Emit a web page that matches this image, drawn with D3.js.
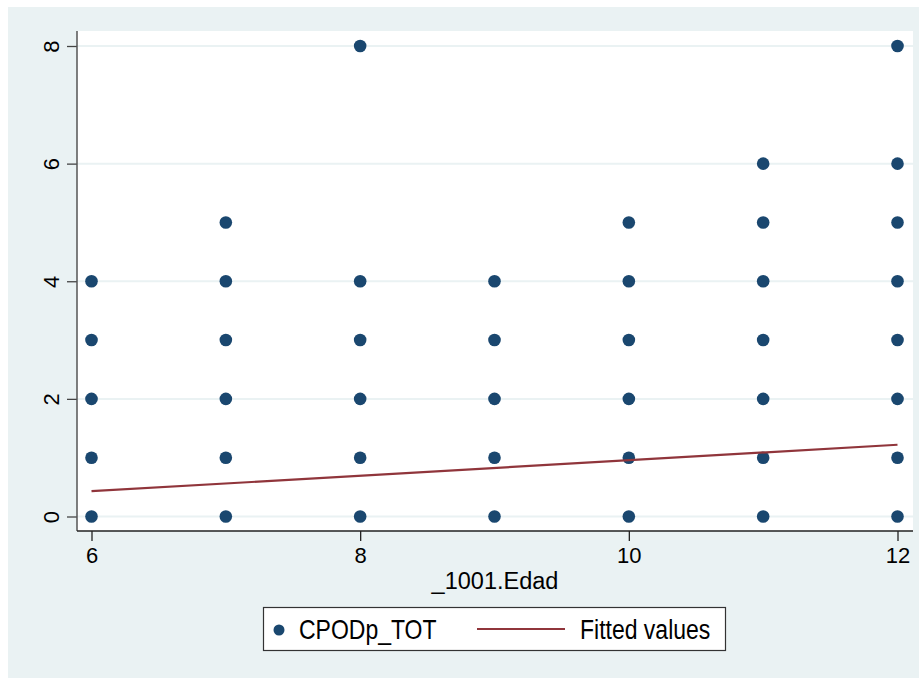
<!DOCTYPE html>
<html>
<head>
<meta charset="utf-8">
<script src="https://cdn.jsdelivr.net/npm/d3@7"></script>
<style>
  body { margin: 0; background: #ffffff; }
  text { font-family: "Liberation Sans", Arial, sans-serif; fill: #000; }
</style>
</head>
<body>
<div id="chart"></div>
<script>

// observed values of CPODp_TOT for each age (_1001.Edad)
var ages = [6, 7, 8, 9, 10, 11, 12];
var cpodAt6 = [0, 1, 2, 3, 4];
var cpodAt7 = [0, 1, 2, 3, 4, 5];
var cpodAt8 = [0, 1, 2, 3, 4, 8];
var cpodAt9 = [0, 1, 2, 3, 4];
var cpodAt10 = [0, 1, 2, 3, 4, 5];
var cpodAt11 = [0, 1, 2, 3, 4, 5, 6];
var cpodAt12 = [0, 1, 2, 3, 4, 5, 6, 8];

// fitted line end points (age, fitted value)
var fittedX = [6, 12];
var fittedY = [0.43, 1.22];

var xTicks = [6, 8, 10, 12];
var yTicks = [0, 2, 4, 6, 8];

var W = 924, H = 679;
var bg = "#eaf2f3";
var dotColor = "#1a476f";
var lineColor = "#90353b";

var plot = {left: 77, top: 31, right: 913, bottom: 531};

var svg = d3.select("#chart").append("svg")
    .attr("width", W)
    .attr("height", H);

// outer graph region
svg.append("rect")
    .attr("x", 8).attr("y", 7)
    .attr("width", 911).attr("height", 671)
    .attr("fill", bg);

// plot region
svg.append("rect")
    .attr("x", plot.left).attr("y", plot.top)
    .attr("width", plot.right - plot.left)
    .attr("height", plot.bottom - plot.top)
    .attr("fill", "#ffffff");

var x = d3.scaleLinear().domain([6, 12]).range([91.5, 897.5]);
var y = d3.scaleLinear().domain([0, 8]).range([516.5, 46]);

// gridlines
svg.append("g").selectAll("line")
    .data(yTicks)
    .enter().append("line")
    .attr("x1", plot.left).attr("x2", plot.right)
    .attr("y1", function (d) { return y(d); })
    .attr("y2", function (d) { return y(d); })
    .attr("stroke", bg)
    .attr("stroke-width", 2);

// y axis
var yAxis = svg.append("g")
    .attr("transform", "translate(" + plot.left + ",0)")
    .call(d3.axisLeft(y).tickValues(yTicks).tickSize(10).tickPadding(0).tickFormat(d3.format("d")));
yAxis.select(".domain").remove();
yAxis.selectAll(".tick line").attr("stroke", "#444").attr("stroke-width", 1.3);
yAxis.selectAll(".tick text").remove();
yAxis.selectAll(".tick").append("text")
    .attr("transform", "translate(-18,0) rotate(-90)")
    .attr("text-anchor", "middle")
    .attr("y", 0)
    .style("font-size", "22px")
    .text(function (d) { return d; });

svg.append("line")
    .attr("x1", plot.left).attr("x2", plot.left)
    .attr("y1", plot.top).attr("y2", plot.bottom)
    .attr("stroke", "#555").attr("stroke-width", 1.5);

// x axis
var xAxis = svg.append("g")
    .attr("transform", "translate(0," + plot.bottom + ")")
    .call(d3.axisBottom(x).tickValues(xTicks).tickSize(10).tickPadding(6).tickFormat(d3.format("d")));
xAxis.select(".domain").remove();
xAxis.selectAll(".tick line").attr("stroke", "#222").attr("stroke-width", 1.3);
xAxis.selectAll(".tick text")
    .style("font-size", "22px")
    .attr("fill", "#000");

svg.append("line")
    .attr("x1", plot.left).attr("x2", plot.right)
    .attr("y1", plot.bottom).attr("y2", plot.bottom)
    .attr("stroke", "#222").attr("stroke-width", 1.5);

svg.append("text")
    .attr("x", 495).attr("y", 589)
    .attr("text-anchor", "middle")
    .style("font-size", "23.5px")
    .text("_1001.Edad");

// scatter points
var groups = [cpodAt6, cpodAt7, cpodAt8, cpodAt9, cpodAt10, cpodAt11, cpodAt12];
var points = [];
groups.forEach(function (vals, i) {
    vals.forEach(function (v) {
        points.push({age: ages[i], cpod: v});
    });
});

svg.append("g").selectAll("circle")
    .data(points)
    .enter().append("circle")
    .attr("cx", function (d) { return x(d.age); })
    .attr("cy", function (d) { return y(d.cpod); })
    .attr("r", 6.3)
    .attr("fill", dotColor);

// fitted line
var fitted = fittedX.map(function (v, i) { return [v, fittedY[i]]; });
svg.append("path")
    .datum(fitted)
    .attr("d", d3.line()
        .x(function (d) { return x(d[0]); })
        .y(function (d) { return y(d[1]); }))
    .attr("fill", "none")
    .attr("stroke", lineColor)
    .attr("stroke-width", 2.2);

// legend
var legend = svg.append("g");
legend.append("rect")
    .attr("x", 263.5).attr("y", 607.5)
    .attr("width", 462).attr("height", 43)
    .attr("fill", "#ffffff")
    .attr("stroke", "#333")
    .attr("stroke-width", 1.2);
legend.append("circle")
    .attr("cx", 279).attr("cy", 630).attr("r", 5.5)
    .attr("fill", dotColor);
legend.append("text")
    .attr("transform", "translate(299,639) scale(1,1.17)")
    .style("font-size", "23px")
    .text("CPODp_TOT");
legend.append("line")
    .attr("x1", 477).attr("x2", 565)
    .attr("y1", 629).attr("y2", 629)
    .attr("stroke", lineColor)
    .attr("stroke-width", 2);
legend.append("text")
    .attr("transform", "translate(580,639) scale(1,1.17)")
    .style("font-size", "23px")
    .text("Fitted values");

</script>
</body>
</html>
